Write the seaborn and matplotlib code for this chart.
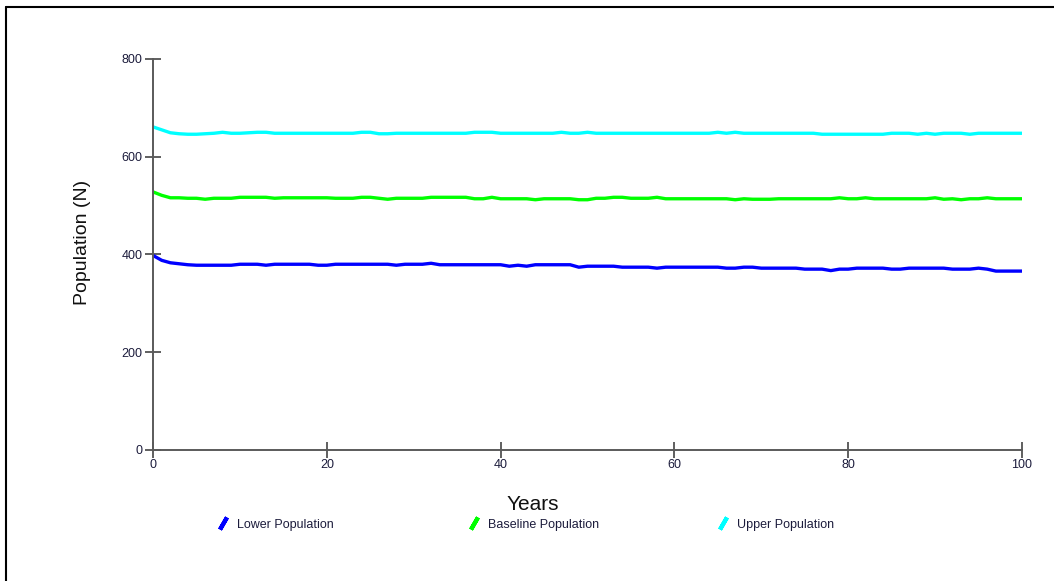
import numpy as np
import pandas as pd
import matplotlib
matplotlib.use("Agg")
import matplotlib.pyplot as plt
from matplotlib.lines import Line2D
import seaborn as sns

# Years 0..100 and the three population runs
years = list(range(101))

lower = [398, 388, 383, 381, 379, 378, 378, 378, 378, 378,
         380, 380, 380, 378, 380, 380, 380, 380, 380, 378,
         378, 380, 380, 380, 380, 380, 380, 380, 378, 380,
         380, 380, 382, 379, 379, 379, 379, 379, 379, 379,
         379, 376, 378, 376, 379, 379, 379, 379, 379, 374,
         376, 376, 376, 376, 374, 374, 374, 374, 372, 374,
         374, 374, 374, 374, 374, 374, 372, 372, 374, 374,
         372, 372, 372, 372, 372, 370, 370, 370, 367, 370,
         370, 372, 372, 372, 372, 370, 370, 372, 372, 372,
         372, 372, 370, 370, 370, 372, 370, 366, 366, 366,
         366]

baseline = [528, 521, 516, 516, 515, 515, 513, 515, 515, 515,
            517, 517, 517, 517, 515, 516, 516, 516, 516, 516,
            516, 515, 515, 515, 517, 517, 515, 513, 515, 515,
            515, 515, 517, 517, 517, 517, 517, 514, 514, 517,
            514, 514, 514, 514, 512, 514, 514, 514, 514, 512,
            512, 515, 515, 517, 517, 515, 515, 515, 517, 514,
            514, 514, 514, 514, 514, 514, 514, 512, 514, 513,
            513, 513, 514, 514, 514, 514, 514, 514, 514, 516,
            514, 514, 516, 514, 514, 514, 514, 514, 514, 514,
            516, 513, 514, 512, 514, 514, 516, 514, 514, 514,
            514]

upper = [661, 655, 649, 647, 646, 646, 647, 648, 650, 648,
         648, 649, 650, 650, 648, 648, 648, 648, 648, 648,
         648, 648, 648, 648, 650, 650, 647, 647, 648, 648,
         648, 648, 648, 648, 648, 648, 648, 650, 650, 650,
         648, 648, 648, 648, 648, 648, 648, 650, 648, 648,
         650, 648, 648, 648, 648, 648, 648, 648, 648, 648,
         648, 648, 648, 648, 648, 650, 648, 650, 648, 648,
         648, 648, 648, 648, 648, 648, 648, 646, 646, 646,
         646, 646, 646, 646, 646, 648, 648, 648, 646, 648,
         646, 648, 648, 648, 646, 648, 648, 648, 648, 648,
         648]

series_names = ["Lower Population", "Baseline Population", "Upper Population"]
colors = ["#0000ff", "#00ff00", "#00ffff"]

df = pd.DataFrame({
    "Years": years * 3,
    "Population": lower + baseline + upper,
    "Series": np.repeat(series_names, len(years)),
})

sns.set_style("white")
plt.rcParams["font.family"] = ["Liberation Sans", "DejaVu Sans"]

fig = plt.figure(figsize=(10.54, 5.81), dpi=100)
ax = fig.add_axes([0.1452, 0.2255, 0.8244, 0.673])

sns.lineplot(data=df, x="Years", y="Population", hue="Series",
             palette=dict(zip(series_names, colors)), linewidth=2.4,
             legend=False, ax=ax)

ax.set_xlim(0, 100)
ax.set_ylim(0, 800)
ax.set_xticks([0, 20, 40, 60, 80, 100])
ax.set_yticks([0, 200, 400, 600, 800])

for s in ["top", "right"]:
    ax.spines[s].set_visible(False)
for s in ["left", "bottom"]:
    ax.spines[s].set_color("#5a5a5a")
    ax.spines[s].set_linewidth(1.4)

ax.tick_params(axis="both", bottom=True, left=True, direction="inout",
               length=11, width=1.2, colors="#444444", labelcolor="#1c1c3c",
               labelsize=9)
ax.tick_params(axis="y", pad=2)
ax.tick_params(axis="x", pad=1)

ax.set_xlabel("Years", fontsize=15, color="#111111")
ax.set_ylabel("Population (N)", fontsize=14, color="#111111")
ax.xaxis.set_label_coords(0.437, -0.114)
ax.yaxis.set_label_coords(-0.071, 0.53)

# legend: one entry per fixed slot, short slanted strokes as handles
slots = [0.2066, 0.4447, 0.6812]
for name, c, x in zip(series_names, colors, slots):
    h = Line2D([], [], linestyle="none", marker=(2, 2, -30), markersize=10,
               markeredgewidth=3, color=c)
    fig.legend([h], [name], loc="center left", bbox_to_anchor=(x, 0.097),
               frameon=False, fontsize=9, handlelength=0.8,
               handletextpad=0.75, borderaxespad=0, borderpad=0,
               labelcolor="#1c1c3c")

# outer frame (left and top edges)
fig.add_artist(Line2D([0.0057, 0.0057], [0, 0.988], color="black", linewidth=1.5,
                      transform=fig.transFigure))
fig.add_artist(Line2D([0.0057, 1.0], [0.988, 0.988], color="black", linewidth=1.5,
                      transform=fig.transFigure))

fig.savefig("out.png", dpi=100)
